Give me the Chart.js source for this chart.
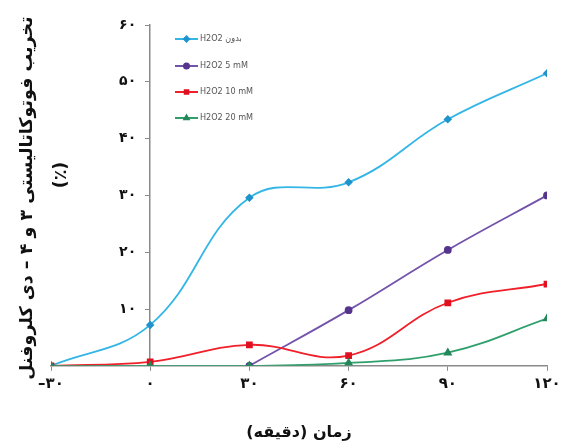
<!DOCTYPE html>
<html>
<head>
<meta charset="utf-8">
<script src="https://cdn.jsdelivr.net/npm/chart.js@4.4.0/dist/chart.umd.min.js"></script>
<style>
  html, body { margin: 0; padding: 0; background: #fff; }
  #wrap { width: 565px; height: 446px; }
</style>
</head>
<body>
<div id="wrap"><canvas id="myChart"></canvas></div>
<script>
// time in minutes and degradation (%)
var times = [-30, 0, 30, 60, 90, 120];
var noH2O2 = [0, 7.2, 29.6, 32.3, 43.4, 51.5];
var h2o2mM5 = [null, null, 0, 9.8, 20.4, 30.0];
var h2o2mM10 = [0, 0.7, 3.7, 1.8, 11.1, 14.4];
var h2o2mM20 = [0, 0, 0, 0.5, 2.3, 8.3];
var seriesLabels = ['H2O2 بدون', 'H2O2 5 mM', 'H2O2 10 mM', 'H2O2 20 mM'];
var xTitle = 'زمان (دقیقه)';
var yTitle = ['تخریب فوتوکاتالیستی ۳ و ۴ – دی کلروفنل', '(٪)'];

var faDigits = '۰۱۲۳۴۵۶۷۸۹';
function toFa(n) {
    return String(n).replace('-', '–').replace(/[0-9]/g, function (d) { return faDigits[+d]; });
}
function points(values) {
    return times.map(function (t, i) { return { x: t, y: values[i] }; });
}

var colors = ['#33b6e6', '#7453ab', '#f0202a', '#2f9f6c'];
var markColors = ['#1f93cc', '#56358c', '#e01020', '#23875a'];
var styles = ['rectRot', 'circle', 'rect', 'triangle'];
var radii = [3, 3, 3.5, 3.5];
var allSeries = [noH2O2, h2o2mM5, h2o2mM10, h2o2mM20];

var datasets = allSeries.map(function (values, i) {
    return {
        label: seriesLabels[i],
        data: points(values),
        borderColor: colors[i],
        backgroundColor: markColors[i],
        pointBorderColor: markColors[i],
        pointBackgroundColor: markColors[i],
        pointStyle: styles[i],
        pointRadius: radii[i],
        borderWidth: 1.8,
        tension: 0.4,
        order: 3 - i
    };
});

// legend box drawn inside the plot, plus the rotated y title
var extras = {
    id: 'extras',
    afterDraw: function (chart) {
        var ctx = chart.ctx;
        ctx.save();
        var ys = [39, 66, 92, 118];
        datasets.forEach(function (ds, i) {
            var y = ys[i];
            ctx.strokeStyle = ds.borderColor;
            ctx.lineWidth = 2;
            ctx.beginPath();
            ctx.moveTo(175, y);
            ctx.lineTo(198, y);
            ctx.stroke();
            ctx.fillStyle = ds.pointBackgroundColor;
            ctx.strokeStyle = ds.pointBorderColor;
            Chart.helpers.drawPoint(ctx, { pointStyle: ds.pointStyle, radius: 2.5, rotation: 0, borderWidth: 1 }, 186.5, y);
            ctx.fillStyle = '#555';
            ctx.font = '9px "DejaVu Sans Condensed", "DejaVu Sans"';
            ctx.textAlign = 'left';
            ctx.textBaseline = 'middle';
            ctx.fillText(ds.label, 200, y);
        });

        ctx.fillStyle = '#111';
        ctx.font = 'bold 17.5px "DejaVu Sans"';
        ctx.textAlign = 'center';
        ctx.textBaseline = 'middle';
        ctx.translate(27, 198);
        ctx.rotate(-Math.PI / 2);
        ctx.fillText(yTitle[0], 0, 0);
        ctx.fillText(yTitle[1], 23, 34);
        ctx.restore();
    }
};

new Chart(document.getElementById('myChart'), {
    type: 'line',
    data: { datasets: datasets },
    options: {
        responsive: true,
        maintainAspectRatio: false,
        animation: false,
        layout: { padding: { left: 51, right: 18, top: 25, bottom: 4 } },
        plugins: {
            legend: { display: false },
            tooltip: { enabled: false }
        },
        scales: {
            x: {
                type: 'linear',
                min: -30,
                max: 120,
                border: { display: true, color: '#8a8a8a', width: 1.5 },
                grid: { drawOnChartArea: false, color: '#8a8a8a', tickLength: 5 },
                ticks: {
                    stepSize: 30,
                    color: '#111',
                    padding: 4,
                    font: { family: 'DejaVu Sans', size: 15, weight: 'bold' },
                    callback: function (v) { return toFa(v); }
                },
                title: {
                    display: true,
                    text: xTitle,
                    color: '#111',
                    padding: { top: 26, bottom: 0 },
                    font: { family: 'DejaVu Sans', size: 16, weight: 'bold' }
                }
            },
            y: {
                type: 'linear',
                position: { x: 0 },
                min: 0,
                max: 60,
                border: { display: true, color: '#8a8a8a', width: 1.5 },
                grid: { drawOnChartArea: false, color: '#8a8a8a', tickLength: 4 },
                ticks: {
                    stepSize: 10,
                    color: '#111',
                    font: { family: 'DejaVu Sans', size: 14, weight: 'bold' },
                    // labels sit right on the axis when it is placed at x = 0, so pad with spaces
                    callback: function (v) { return v === 0 ? '' : toFa(v) + '\u2002\u2002'; }
                }
            }
        }
    },
    plugins: [extras]
});
</script>
</body>
</html>
